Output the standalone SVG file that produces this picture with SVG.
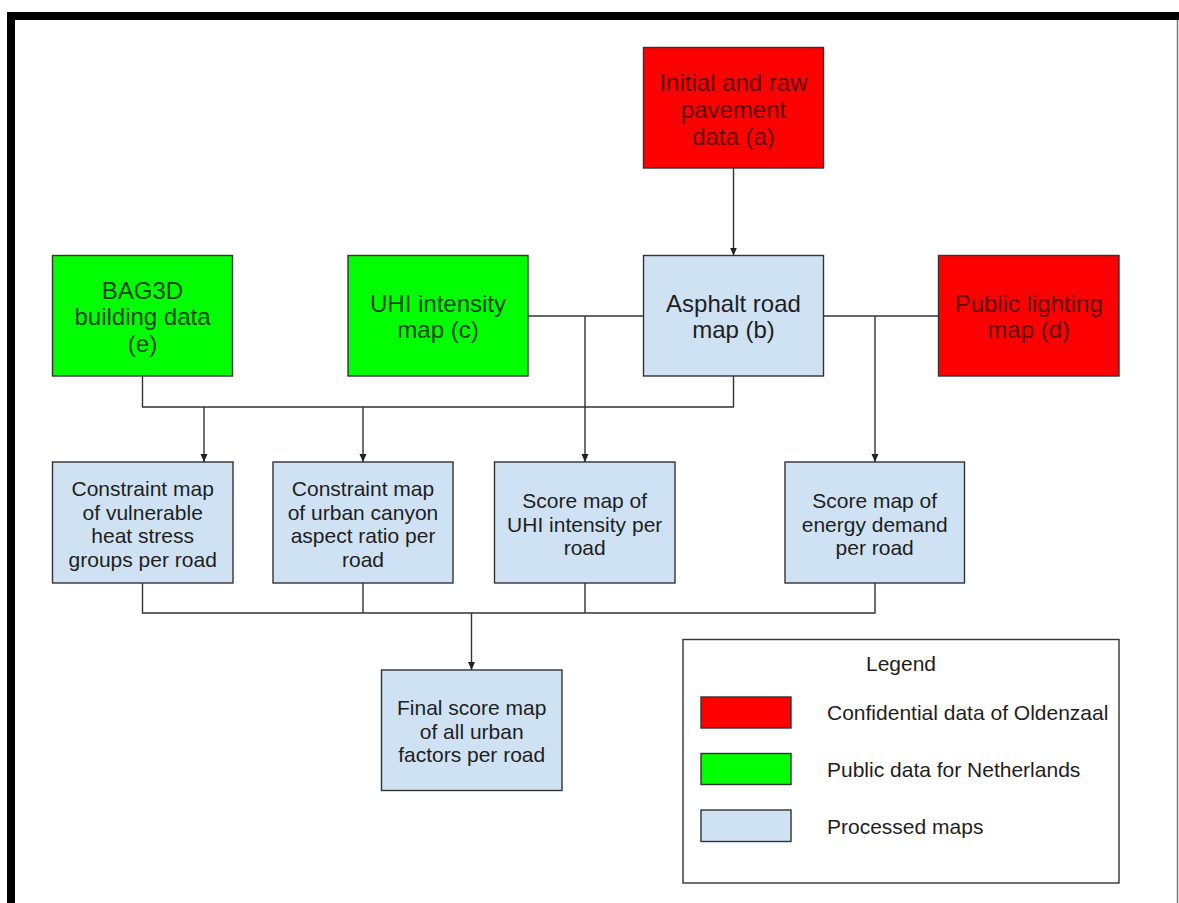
<svg xmlns="http://www.w3.org/2000/svg" width="1179" height="903" viewBox="0 0 1179 903">
  <style>
    text { font-family: "Liberation Sans", Arial, sans-serif; text-anchor: middle; }
    .box { stroke: #333333; stroke-width: 1.4; }
    .conf { fill: #ff0000; }
    .pub { fill: #00ff00; }
    .proc { fill: #cfe2f3; }
    .big { font-size: 24px; }
    .small { font-size: 21px; }
    .tconf { fill: #5e0000; }
    .tpub { fill: #0a420a; }
    .tproc { fill: #1e1e1e; }
    .wire { fill: none; stroke: #333333; stroke-width: 1.4; }
    .legend-text { font-size: 21px; fill: #1e1e1e; text-anchor: start; }
  </style>
  <defs>
    <marker id="arrow" viewBox="0 0 8 8" refX="8" refY="4" markerWidth="8" markerHeight="8" markerUnits="userSpaceOnUse" orient="auto">
      <path d="M0,0.5 L8,4 L0,7.5 Z" fill="#222222"/>
    </marker>
  </defs>

  <!-- page background and frame -->
  <rect x="0" y="0" width="1179" height="903" fill="#ffffff"/>
  <rect x="7" y="12" width="1172" height="8" fill="#000000"/>
  <rect x="7" y="12" width="8" height="891" fill="#000000"/>
  <line x1="1177.5" y1="20" x2="1177.5" y2="903" stroke="#777777" stroke-width="1.5"/>

  <!-- connectors -->
  <g id="connectors">
    <line class="wire" x1="733.5" y1="168" x2="733.5" y2="255.5" marker-end="url(#arrow)"/>
    <polyline class="wire" points="142.5,376 142.5,407 733.5,407 733.5,376"/>
    <line class="wire" x1="204" y1="407" x2="204" y2="462" marker-end="url(#arrow)"/>
    <line class="wire" x1="363" y1="407" x2="363" y2="462" marker-end="url(#arrow)"/>
    <line class="wire" x1="528" y1="316" x2="643.5" y2="316"/>
    <line class="wire" x1="585" y1="316" x2="585" y2="462" marker-end="url(#arrow)"/>
    <line class="wire" x1="823.5" y1="316" x2="938.5" y2="316"/>
    <line class="wire" x1="875" y1="316" x2="875" y2="462" marker-end="url(#arrow)"/>
    <polyline class="wire" points="142.5,583 142.5,613 875,613 875,583"/>
    <line class="wire" x1="363" y1="583" x2="363" y2="613"/>
    <line class="wire" x1="585" y1="583" x2="585" y2="613"/>
    <line class="wire" x1="471.5" y1="613" x2="471.5" y2="670" marker-end="url(#arrow)"/>
  </g>

  <!-- input data -->
  <g id="node-a">
    <rect class="box conf" x="643.5" y="47.5" width="180" height="120.5"/>
    <text class="big tconf" x="733.5" y="90.5">Initial and raw</text>
    <text class="big tconf" x="733.5" y="117.5">pavement</text>
    <text class="big tconf" x="733.5" y="144.5">data (a)</text>
  </g>
  <g id="node-e">
    <rect class="box pub" x="52.5" y="255.5" width="180" height="120.5"/>
    <text class="big tpub" x="142.5" y="298.5">BAG3D</text>
    <text class="big tpub" x="142.5" y="325">building data</text>
    <text class="big tpub" x="142.5" y="351.7">(e)</text>
  </g>
  <g id="node-c">
    <rect class="box pub" x="348" y="255.5" width="180" height="120.5"/>
    <text class="big tpub" x="438" y="311.7">UHI intensity</text>
    <text class="big tpub" x="438" y="338.3">map (c)</text>
  </g>
  <g id="node-b">
    <rect class="box proc" x="643.5" y="255.5" width="180" height="120.5"/>
    <text class="big tproc" x="733.5" y="311.7">Asphalt road</text>
    <text class="big tproc" x="733.5" y="338.3">map (b)</text>
  </g>
  <g id="node-d">
    <rect class="box conf" x="938.5" y="255.5" width="180.5" height="120.5"/>
    <text class="big tconf" x="1028.7" y="311.7">Public lighting</text>
    <text class="big tconf" x="1028.7" y="338.3">map (d)</text>
  </g>

  <!-- per-road maps -->
  <g id="node-vulnerable">
    <rect class="box proc" x="52.5" y="462" width="180.5" height="121"/>
    <text class="small tproc" x="142.7" y="496">Constraint map</text>
    <text class="small tproc" x="142.7" y="519.6">of vulnerable</text>
    <text class="small tproc" x="142.7" y="543.2">heat stress</text>
    <text class="small tproc" x="142.7" y="566.8">groups per road</text>
  </g>
  <g id="node-canyon">
    <rect class="box proc" x="273" y="462" width="180" height="121"/>
    <text class="small tproc" x="363" y="496">Constraint map</text>
    <text class="small tproc" x="363" y="519.6">of urban canyon</text>
    <text class="small tproc" x="363" y="543.2">aspect ratio per</text>
    <text class="small tproc" x="363" y="566.8">road</text>
  </g>
  <g id="node-uhi-score">
    <rect class="box proc" x="494.5" y="462" width="180.5" height="121"/>
    <text class="small tproc" x="584.7" y="508">Score map of</text>
    <text class="small tproc" x="584.7" y="531.6">UHI intensity per</text>
    <text class="small tproc" x="584.7" y="555.2">road</text>
  </g>
  <g id="node-energy">
    <rect class="box proc" x="785" y="462" width="179.5" height="121"/>
    <text class="small tproc" x="874.7" y="508">Score map of</text>
    <text class="small tproc" x="874.7" y="531.6">energy demand</text>
    <text class="small tproc" x="874.7" y="555.2">per road</text>
  </g>
  <g id="node-final">
    <rect class="box proc" x="381.5" y="670" width="180.5" height="120.5"/>
    <text class="small tproc" x="471.7" y="715">Final score map</text>
    <text class="small tproc" x="471.7" y="738.6">of all urban</text>
    <text class="small tproc" x="471.7" y="762.2">factors per road</text>
  </g>

  <!-- legend -->
  <g id="legend">
    <rect x="683" y="639.5" width="436" height="243.5" fill="#ffffff" stroke="#333333" stroke-width="1.4"/>
    <text x="901" y="670.5" style="font-size:21px; fill:#1e1e1e">Legend</text>
    <rect class="box conf" x="701" y="697" width="90" height="31"/>
    <text class="legend-text" x="827" y="719.5">Confidential data of Oldenzaal</text>
    <rect class="box pub" x="701" y="753.5" width="90" height="31"/>
    <text class="legend-text" x="827" y="776.5">Public data for Netherlands</text>
    <rect class="box proc" x="701" y="810" width="90" height="31.5"/>
    <text class="legend-text" x="827" y="834">Processed maps</text>
  </g>
</svg>
